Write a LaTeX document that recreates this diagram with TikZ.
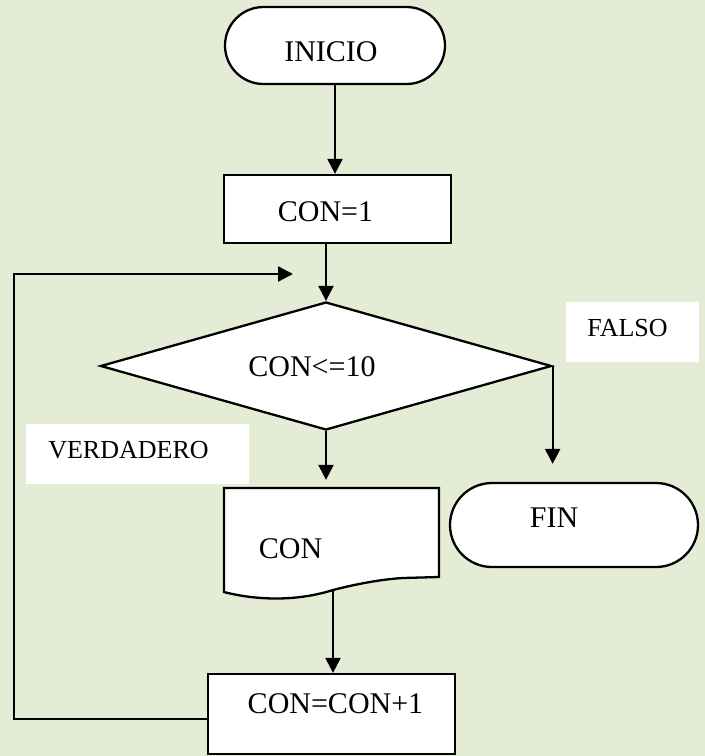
\documentclass[tikz,border=0pt]{standalone}
\usepackage{fontspec}
\setmainfont{Liberation Serif}
\usetikzlibrary{shapes.geometric, shapes.misc, arrows.meta}
\definecolor{bgolive}{RGB}{228,236,214}
\newcommand{\notefont}{\fontsize{13}{15}\selectfont}

\begin{document}
\begin{tikzpicture}[x=0.5pt, y=-0.5pt, line width=1.15pt,
        font=\fontsize{15}{18}\selectfont,
        >={Triangle[length=7.5pt, width=7.5pt]},
        startend/.style={draw, fill=white, rounded rectangle, inner sep=0pt},
        procbox/.style={draw, fill=white, rectangle, inner sep=0pt},
        decision/.style={draw, fill=white, diamond, inner sep=0pt},
        note/.style={fill=white, rectangle, inner sep=0pt}]
        \fill[bgolive] (0, 0) rectangle (705, 756);
        \useasboundingbox (0, 0) rectangle (705, 756);

        % document shape, wavy bottom
        \draw[fill=white] (224, 488) -- (439, 488) -- (439, 577) -- (403, 578)
            .. controls (385, 579) and (360, 583) .. (333, 590)
            .. controls (295, 602) and (255, 600) .. (224, 592) -- cycle;

        \node[startend, minimum width=110pt, minimum height=38.5pt,
            label={[xshift=-2pt, yshift=-3.25pt]center:INICIO}] (inicio) at (335, 45.5) {};
        \node[procbox, minimum width=113.5pt, minimum height=34pt,
            label={[xshift=-6pt, yshift=-1.5pt]center:CON=1}] (con1) at (337.5, 209) {};
        \node[decision, minimum width=225.5pt, minimum height=64pt,
            label={[xshift=-7pt, yshift=-0.5pt]center:CON<=10}] (dec) at (326, 366) {};
        \node[minimum width=107.5pt, minimum height=44.5pt, inner sep=0pt,
            label={[xshift=-20.5pt, yshift=-8pt]center:CON}] (doc) at (331.5, 532.5) {};
        \node[startend, minimum width=124pt, minimum height=42pt,
            label={[xshift=-10pt, yshift=3.5pt]center:FIN}] (fin) at (574, 525) {};
        \node[procbox, minimum width=123.5pt, minimum height=40pt,
            label={[xshift=2pt, yshift=5.25pt]center:CON=CON+1}] (con2) at (331.5, 714) {};
        \node[note, minimum width=66.5pt, minimum height=30pt,
            label={[font=\notefont, xshift=-2.5pt, yshift=2pt]center:FALSO}] (falso) at (632.5, 332) {};
        \node[note, minimum width=111.5pt, minimum height=30pt,
            label={[font=\notefont, xshift=-4.5pt, yshift=2pt]center:VERDADERO}] (verdad) at (137.5, 454) {};

        \coordinate (docb) at (333, 590);
        \coordinate (loopend) at (293, 274);

        \draw[->] (inicio.south) -- (inicio.south |- con1.north);
        \draw[->] (dec.north |- con1.south) -- (dec.north);
        \draw[->, shorten >=3.5pt] (dec.south) -- (dec.south |- doc.north);
        \draw[->, shorten >=9pt] (dec.east) -- (dec.east |- fin.north);
        \draw[->] (docb) -- (docb |- con2.north);
        \draw[->] ([yshift=-2.5pt]con2.west) -| (14, 274) -- (loopend);
    \end{tikzpicture}
\end{document}
